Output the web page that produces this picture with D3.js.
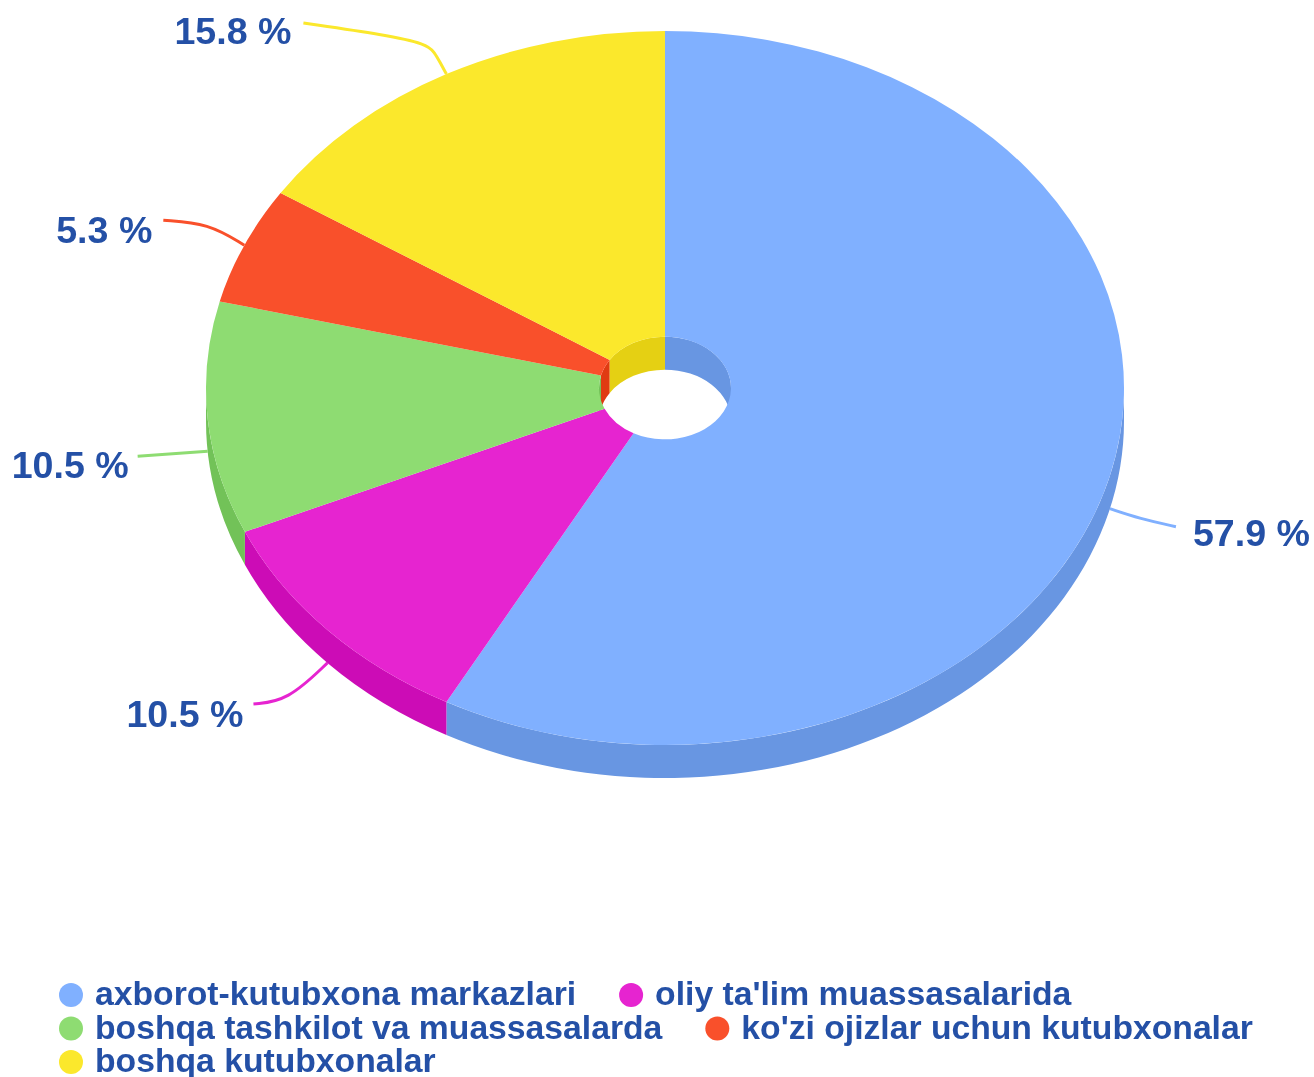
<!DOCTYPE html>
<html lang="en">

<head>
    <meta charset="UTF-8">
    <title>Kutubxonalar</title>
    <style>
        body { margin: 0; background: #fff; }
        svg { display: block; filter: blur(0.5px); }
        text { font-family: "Liberation Sans", Arial, sans-serif; font-weight: bold; fill: #2450a6; }
    </style>
</head>

<body>
    <div id="my_dataviz"></div>

    <script src="https://d3js.org/d3.v7.min.js"></script>
    <script>
        // chart data
        var categories = ["axborot-kutubxona markazlari", "oliy ta'lim muassasalarida",
            "boshqa tashkilot va muassasalarda", "ko'zi ojizlar uchun kutubxonalar", "boshqa kutubxonalar"];
        var percents = [57.9, 10.5, 10.5, 5.3, 15.8];
        var topColors = ["#80b0ff", "#e624d0", "#8edc72", "#f9502b", "#fbe82c"];
        var sideColors = ["#6896e2", "#cc0cb6", "#72c258", "#e03a12", "#e5d013"];

        // leader line bends, relative to the point on the pie edge
        var leaderBends = [
            [[0, 0], [30, 10], [66, 18]],
            [[0, 0], [-40, 38], [-74, 41]],
            [[0, 0], [-70, 5]],
            [[0, 0], [-36, -22], [-81, -25]],
            [[0, 0], [-6, -11], [-12, -22], [-20, -30], [-60, -39], [-143, -51]]
        ];
        var labelGap = [17, -10, -9, -11, -12];
        var labelDrop = [19, 23, 22, 23, 21];

        var width = 1314, height = 1077;
        var cx = 665, cy = 388, rx = 459, ry = 357, holeRx = 66, depth = 33;
        var squash = ry / rx, holeRy = holeRx * squash;

        var svg = d3.select("#my_dataviz").append("svg")
            .attr("width", width)
            .attr("height", height);

        var slices = d3.pie().sort(null).value(function (d) { return d; })(percents);
        var arc = d3.arc().innerRadius(holeRx).outerRadius(rx);

        function rim(a, radiusX, radiusY, dy) {
            return [cx + radiusX * Math.sin(a), cy - radiusY * Math.cos(a) + dy];
        }

        // band between the top rim and the same rim moved down by depth
        function wall(a0, a1, radiusX, radiusY) {
            var p0 = rim(a0, radiusX, radiusY, 0), p1 = rim(a1, radiusX, radiusY, 0),
                p2 = rim(a1, radiusX, radiusY, depth), p3 = rim(a0, radiusX, radiusY, depth);
            var r = radiusX + " " + radiusY + " 0 0 ";
            return "M" + p0 + "A" + r + "1 " + p1 + "L" + p2 + "A" + r + "0 " + p3 + "Z";
        }

        function overlap(d, lo, hi) {
            var a0 = Math.max(d.startAngle, lo), a1 = Math.min(d.endAngle, hi);
            return a0 < a1 ? [[a0, a1]] : [];
        }

        // leader lines go under the pie
        var line = d3.line().curve(d3.curveBasis);
        function anchor(d) {
            var mid = (d.startAngle + d.endAngle) / 2;
            return rim(mid, rx, ry, Math.cos(mid) < 0 ? depth : 0);
        }
        svg.append("g").selectAll("path")
            .data(slices)
            .join("path")
            .attr("fill", "none")
            .attr("stroke", function (d, i) { return topColors[i]; })
            .attr("stroke-width", 3)
            .attr("d", function (d, i) {
                var a = anchor(d);
                return line(leaderBends[i].map(function (b) { return [a[0] + b[0], a[1] + b[1]]; }));
            });

        // inside of the hole (back half only)
        var inner = svg.append("g");
        slices.forEach(function (d, i) {
            overlap(d, 0, Math.PI / 2).concat(overlap(d, Math.PI * 1.5, Math.PI * 2)).forEach(function (s) {
                inner.append("path").attr("fill", sideColors[i]).attr("d", wall(s[0], s[1], holeRx, holeRy));
            });
        });

        // outer side (front half only)
        var outer = svg.append("g");
        slices.forEach(function (d, i) {
            overlap(d, Math.PI / 2, Math.PI * 1.5).forEach(function (s) {
                outer.append("path").attr("fill", sideColors[i]).attr("d", wall(s[0], s[1], rx, ry));
            });
        });

        // top face
        svg.append("g")
            .attr("transform", "translate(" + cx + "," + cy + ") scale(1," + squash + ")")
            .selectAll("path")
            .data(slices)
            .join("path")
            .attr("fill", function (d, i) { return topColors[i]; })
            .attr("d", arc);

        // percent labels
        svg.append("g").selectAll("text")
            .data(slices)
            .join("text")
            .attr("font-size", 37.6)
            .attr("text-anchor", function (d, i) { return labelGap[i] > 0 ? "start" : "end"; })
            .attr("x", function (d, i) {
                var b = leaderBends[i][leaderBends[i].length - 1];
                return anchor(d)[0] + b[0] + labelGap[i];
            })
            .attr("y", function (d, i) {
                var b = leaderBends[i][leaderBends[i].length - 1];
                return anchor(d)[1] + b[1] + labelDrop[i];
            })
            .text(function (d) { return d.value + " %"; });

        // legend, wraps like a flow layout
        var legend = svg.append("g");
        var startX = 59, lx = startX, ly = 1005, rowH = 33.5, dotW = 36, gap = 43;
        categories.forEach(function (name, i) {
            var item = legend.append("g");
            item.append("ellipse")
                .attr("cx", 12).attr("cy", -10).attr("rx", 12).attr("ry", 12)
                .attr("fill", topColors[i]);
            var t = item.append("text").attr("x", dotW).attr("font-size", 33.7).text(name);
            var w = dotW + t.node().getComputedTextLength();
            if (lx > startX && lx + w > width) {
                lx = startX;
                ly += rowH;
            }
            item.attr("transform", "translate(" + lx + "," + ly + ")");
            lx += w + gap;
        });
    </script>
</body>

</html>
